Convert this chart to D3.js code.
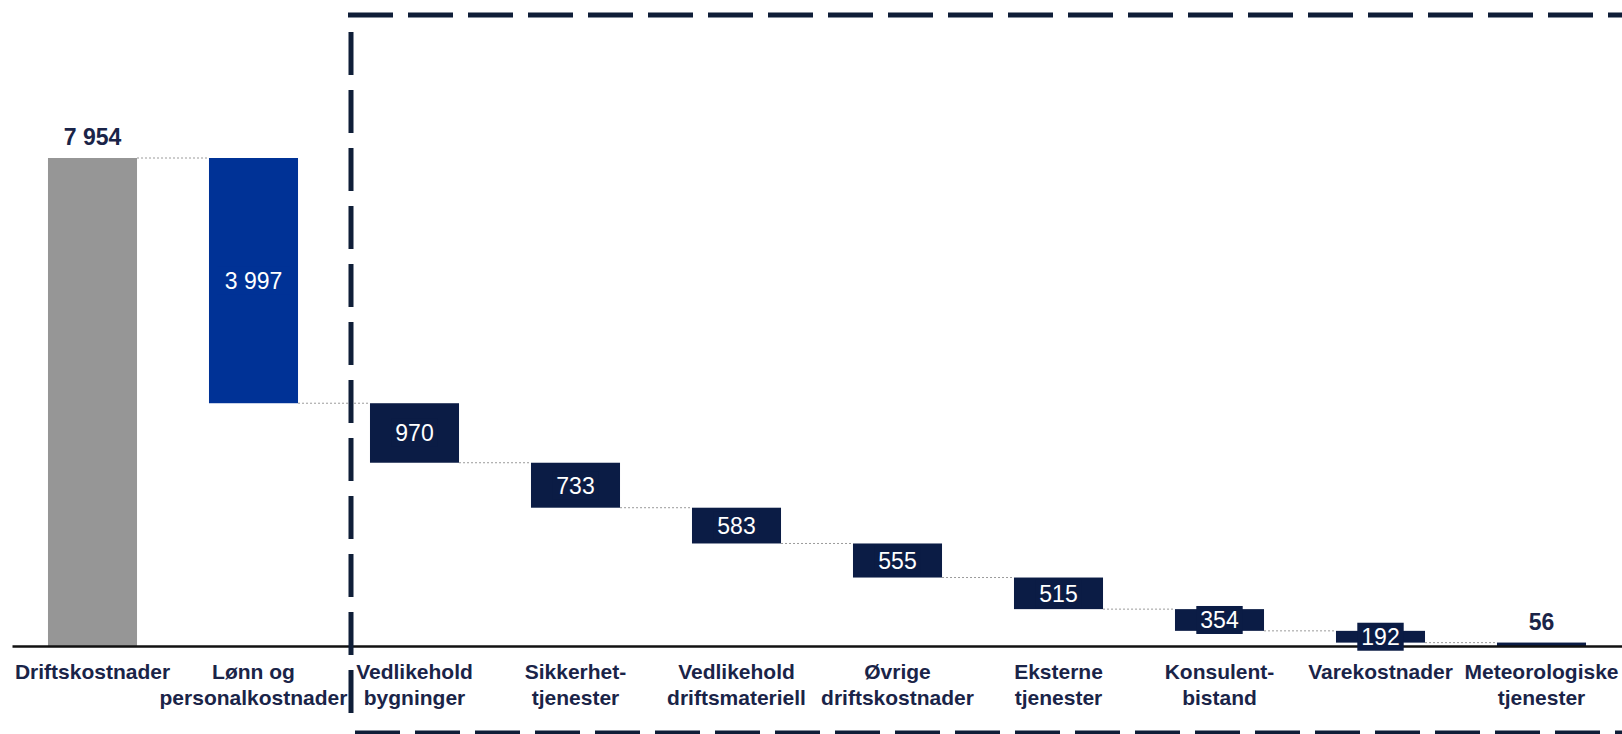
<!DOCTYPE html>
<html lang="no">
<head>
<meta charset="UTF-8">
<title>Driftskostnader</title>
<style>
    body { margin: 0; background: #fff; }
    text { font-family: "Liberation Sans", Arial, sans-serif; }
</style>
</head>
<body>
<script src="https://cdn.jsdelivr.net/npm/d3@7"></script>
<script>
var categories = ["Driftskostnader", "Lønn og|personalkostnader", "Vedlikehold|bygninger",
    "Sikkerhet-|tjenester", "Vedlikehold|driftsmateriell", "Øvrige|driftskostnader",
    "Eksterne|tjenester", "Konsulent-|bistand", "Varekostnader", "Meteorologiske|tjenester"];
var values = [7954, 3997, 970, 733, 583, 555, 515, 354, 192, 56];
// total = bar from zero, step = falls from running level, end = rest from zero
var kinds = ["total", "step", "step", "step", "step", "step", "step", "step", "step", "end"];
var colors = ["#969696", "#003296", "#0b1c45", "#0b1c45", "#0b1c45", "#0b1c45", "#0b1c45", "#0b1c45", "#0b1c45", "#0b1c45"];

var w = 1622, h = 734;
var svg = d3.select("body").append("svg").attr("width", w).attr("height", h);

var x = d3.scaleBand().domain(d3.range(categories.length)).range([12, 1622])
    .paddingInner(0.447).paddingOuter(0.2235);
var y = d3.scaleLinear().domain([0, 7954]).range([646, 158]);

var fmt = d3.formatLocale({decimal: ",", thousands: " ", grouping: [3], currency: ["", ""]}).format(",");

// build waterfall levels
var level = 0;
var bars = values.map(function (v, i) {
    var b;
    if (kinds[i] === "step") {
        b = {i: i, top: level, bottom: level - v};
        level = level - v;
    } else {
        b = {i: i, top: v, bottom: 0};
        level = v;
    }
    b.v = v; b.kind = kinds[i];
    return b;
});

// connectors
svg.append("g").selectAll("line").data(bars.slice(0, -1))
    .enter().append("line")
    .attr("x1", function (d) { return x(d.i) + x.bandwidth(); })
    .attr("x2", function (d) { return x(d.i + 1); })
    .attr("y1", function (d) { return y(d.kind === "step" ? d.bottom : d.top); })
    .attr("y2", function (d) { return y(d.kind === "step" ? d.bottom : d.top); })
    .attr("stroke", "#9a9a9a")
    .attr("stroke-width", 1)
    .attr("stroke-dasharray", "2,2");

svg.append("g").selectAll("rect").data(bars)
    .enter().append("rect")
    .attr("x", function (d) { return x(d.i); })
    .attr("width", x.bandwidth())
    .attr("y", function (d) { return y(d.top); })
    .attr("height", function (d) { return y(d.bottom) - y(d.top); })
    .attr("fill", function (d) { return colors[d.i]; });

// axis
var axis = svg.append("g").attr("transform", "translate(0,646)")
    .call(d3.axisBottom(x).tickSize(0).tickSizeOuter(0).tickFormat(function (i) { return categories[i]; }));
axis.select(".domain").attr("stroke", "#111").attr("stroke-width", 2.5);
axis.selectAll(".tick text").each(function (i) {
    var t = d3.select(this);
    var parts = categories[i].split("|");
    t.text(null).attr("y", 0).attr("dy", null)
        .attr("font-size", 21).attr("font-weight", "bold").attr("fill", "#1a2448")
        .attr("font-family", "Liberation Sans, Arial, sans-serif");
    parts.forEach(function (p, k) {
        t.append("tspan").attr("x", 0).attr("y", 33 + k * 26).text(p);
    });
});

// value labels
var inside = bars.filter(function (d) { return d.kind === "step"; });
var lab = svg.append("g").selectAll("g").data(inside).enter().append("g")
    .attr("transform", function (d) {
        return "translate(" + (x(d.i) + x.bandwidth() / 2) + "," + ((y(d.top) + y(d.bottom)) / 2) + ")";
    });
lab.append("rect")
    .attr("fill", function (d) { return colors[d.i]; })
    .attr("x", function (d) { return -(fmt(d.v).length * 12.8) / 2 - 4; })
    .attr("width", function (d) { return fmt(d.v).length * 12.8 + 8; })
    .attr("y", -14).attr("height", 28);
lab.append("text")
    .attr("text-anchor", "middle")
    .attr("dy", "0.36em")
    .attr("font-size", 23)
    .attr("fill", "#fff")
    .text(function (d) { return fmt(d.v); });

svg.append("g").selectAll("text").data(bars.filter(function (d) { return d.kind !== "step"; }))
    .enter().append("text")
    .attr("x", function (d) { return x(d.i) + x.bandwidth() / 2; })
    .attr("y", function (d) { return y(d.top) - 13; })
    .attr("text-anchor", "middle")
    .attr("font-size", 23)
    .attr("font-weight", "bold")
    .attr("fill", "#1a2448")
    .text(function (d) { return fmt(d.v); });

// dashed frame around the cost items
var frame = svg.append("g").attr("stroke", "#0f1e38").attr("stroke-width", 5).attr("fill", "none");
frame.append("line").attr("x1", 348).attr("x2", 1650).attr("y1", 15).attr("y2", 15)
    .attr("stroke-dasharray", "45,15");
frame.append("line").attr("x1", 351).attr("x2", 351).attr("y1", 32).attr("y2", 724)
    .attr("stroke-dasharray", "43,15");
frame.append("line").attr("x1", 355).attr("x2", 1650).attr("y1", 733).attr("y2", 733)
    .attr("stroke-dasharray", "45,15");
</script>
</body>
</html>
